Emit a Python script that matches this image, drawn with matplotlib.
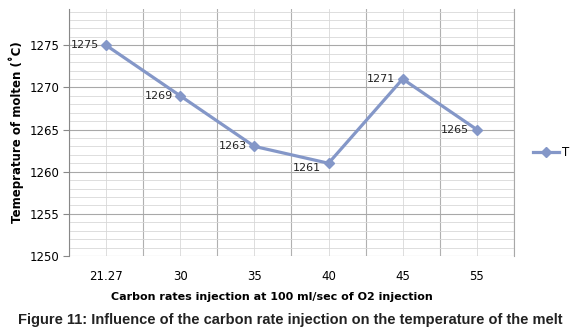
import numpy as np
import matplotlib.pyplot as plt
from matplotlib.ticker import MultipleLocator

categories = ['21.27', '30', '35', '40', '45', '55']
temps = [1275, 1269, 1263, 1261, 1271, 1265]

line_col = '#8497c8'

fig = plt.figure(figsize=(5.8, 3.35), dpi=100)
ax = fig.add_axes([0.119, 0.236, 0.767, 0.737])

x = np.arange(len(categories))
ax.plot(x, temps, color=line_col, lw=2.3, marker='D', ms=5.5, label='T')

for xi, v in zip(x, temps):
    dy = -0.6 if v == 1261 else 0
    ax.text(xi - 0.1, v + dy, str(v), ha='right', va='center', fontsize=8, color='#222222')

ax.set_xlim(-0.5, len(categories) - 0.5)
ax.set_ylim(1250, 1279.3)
ax.set_xticks(x)
ax.set_xticklabels(categories)
ax.set_xticks(np.arange(-0.5, len(categories), 1), minor=True)
ax.yaxis.set_major_locator(MultipleLocator(5))
ax.yaxis.set_minor_locator(MultipleLocator(1))

ax.grid(which='major', axis='y', color='#a8a8a8', lw=0.8)
ax.grid(which='minor', axis='y', color='#d8d8d8', lw=0.6)
ax.grid(which='major', axis='x', color='#d8d8d8', lw=0.6)
ax.grid(which='minor', axis='x', color='#b0b0b0', lw=0.8)
ax.set_axisbelow(True)

ax.tick_params(axis='x', which='both', length=0, pad=10, labelsize=8.5)
ax.tick_params(axis='y', which='major', length=4, color='#888888', labelsize=8.5, pad=3)
ax.tick_params(axis='y', which='minor', length=0)

for s in ['top', 'bottom']:
    ax.spines[s].set_visible(False)
ax.spines['left'].set_color('#888888')
ax.spines['right'].set_color('#a8a8a8')
ax.spines['right'].set_linewidth(0.8)

ax.set_ylabel('Temeprature of molten (˚C)', fontsize=8.5, fontweight='bold', labelpad=4)
ax.set_xlabel('Carbon rates injection at 100 ml/sec of O2 injection', fontsize=8, fontweight='bold', labelpad=3)
ax.xaxis.set_label_coords(0.455, -0.145)

ax.legend(loc='center left', bbox_to_anchor=(1.02, 0.42), frameon=False, fontsize=8.5,
          handlelength=2.2, handletextpad=0.2)

fig.text(0.5, 0.045, 'Figure 11: Influence of the carbon rate injection on the temperature of the melt',
         ha='center', va='center', fontsize=10.5, fontweight='bold', family='Liberation Sans', color='#222222')

fig.savefig('out.png', dpi=100)
